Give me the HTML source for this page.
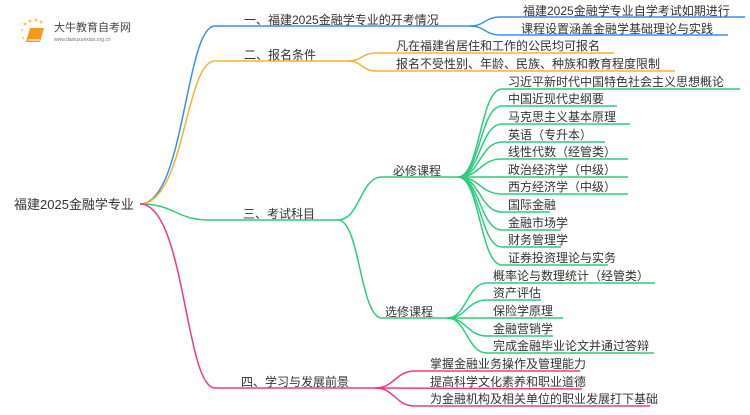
<!DOCTYPE html>
<html><head><meta charset="utf-8"><style>
body{margin:0;background:#fff;width:750px;height:410px;overflow:hidden}
svg text{font-family:"Liberation Sans","Noto Sans CJK SC",sans-serif;font-size:12px;fill:#333}
</style></head><body>
<svg width="750" height="410" viewBox="0 0 750 410" xmlns="http://www.w3.org/2000/svg">
<g>
<circle cx="25" cy="24" r="1.5" fill="#f9c86a"/><circle cx="30" cy="21" r="1.5" fill="#f9c86a"/><circle cx="36" cy="20" r="1.5" fill="#f9c86a"/><circle cx="41" cy="22" r="1.5" fill="#f9c86a"/><circle cx="22" cy="30" r="1.2" fill="#f9d88a"/><circle cx="23" cy="38" r="1.2" fill="#f9d88a"/>
<path d="M30 28 L44 28 L40 42 L26 42 Z" fill="#f39a1e"/><path d="M28 40 L40 40" stroke="#fff" stroke-width="1"/>
<text x="54" y="31" style="font-size:11px;fill:#444">大牛教育自考网</text>
<text x="54" y="41" style="font-size:5px;fill:#777">www.daniuxuexiao.org.cn</text>
</g>
<g fill="none" stroke-width="1.5">
<!-- blue -->
<g stroke="#3a8ef6">
<path d="M140 204 C185 204,185 26,215 26 L470 26"/>
<path d="M470 26 C485 26,485 17,500 17 L745 17"/>
<path d="M470 26 C485 26,485 35,500 35 L728 35"/>
</g>
<g stroke="#f7b32b">
<path d="M140 204 C185 204,185 61,215 61 L348 61"/>
<path d="M348 61 C362 61,362 53,376 53 L614 53"/>
<path d="M348 61 C362 61,362 71,376 71 L675 71"/>
</g>
<g stroke="#2ecc7e">
<path d="M140 204 C175 204,175 220,210 220 L338 220"/>
<path d="M338 220 C360 220,360 177,382 177 L458 177"/>
<path d="M338 220 C360 220,360 318,382 318 L447 318"/>
<path d="M458 177 C480 177,480 89,502 89 L740 89"/>
<path d="M458 177 C480 177,480 106,502 106 L617 106"/>
<path d="M458 177 C480 177,480 124,502 124 L630 124"/>
<path d="M458 177 C480 177,480 142,502 142 L605 142"/>
<path d="M458 177 C480 177,480 159,502 159 L628 159"/>
<path d="M458 177 L628 177"/>
<path d="M458 177 C480 177,480 194,502 194 L628 194"/>
<path d="M458 177 C480 177,480 212,502 212 L550 212"/>
<path d="M458 177 C480 177,480 230,502 230 L561 230"/>
<path d="M458 177 C480 177,480 247,502 247 L561 247"/>
<path d="M458 177 C480 177,480 265,502 265 L608 265"/>
<path d="M447 318 C467 318,467 283,487 283 L655 283"/>
<path d="M447 318 C467 318,467 300,487 300 L541 300"/>
<path d="M447 318 L563 318"/>
<path d="M447 318 C467 318,467 336,487 336 L553 336"/>
<path d="M447 318 C467 318,467 353,487 353 L654 353"/>
</g>
<g stroke="#f0388a">
<path d="M140 204 C185 204,185 388,215 388 L375 388"/>
<path d="M375 388 C395 388,395 371,415 371 L580 371"/>
<path d="M375 388 L582 389"/>
<path d="M375 388 C395 388,395 406,415 406 L650 406"/>
</g>
</g>
<text x="14" y="209" style="font-size:13px">福建2025金融学专业</text>
<text x="244" y="24">一、福建2025金融学专业的开考情况</text>
<text x="523" y="15">福建2025金融学专业自学考试如期进行</text>
<text x="521" y="33">课程设置涵盖金融学基础理论与实践</text>
<text x="244" y="59">二、报名条件</text>
<text x="396" y="50">凡在福建省居住和工作的公民均可报名</text>
<text x="396" y="68">报名不受性别、年龄、民族、种族和教育程度限制</text>
<text x="243" y="218">三、考试科目</text>
<text x="393" y="175">必修课程</text>
<text x="508" y="86">习近平新时代中国特色社会主义思想概论</text>
<text x="508" y="103">中国近现代史纲要</text>
<text x="508" y="121">马克思主义基本原理</text>
<text x="508" y="139">英语（专升本）</text>
<text x="508" y="156">线性代数（经管类）</text>
<text x="508" y="174">政治经济学（中级）</text>
<text x="508" y="191">西方经济学（中级）</text>
<text x="508" y="209">国际金融</text>
<text x="508" y="227">金融市场学</text>
<text x="508" y="244">财务管理学</text>
<text x="508" y="262">证券投资理论与实务</text>
<text x="385" y="316">选修课程</text>
<text x="493" y="280">概率论与数理统计（经管类）</text>
<text x="493" y="297">资产评估</text>
<text x="493" y="315">保险学原理</text>
<text x="493" y="333">金融营销学</text>
<text x="493" y="350">完成金融毕业论文并通过答辩</text>
<text x="241" y="386">四、学习与发展前景</text>
<text x="430" y="368">掌握金融业务操作及管理能力</text>
<text x="430" y="386">提高科学文化素养和职业道德</text>
<text x="430" y="403">为金融机构及相关单位的职业发展打下基础</text>
</svg>
</body></html>
